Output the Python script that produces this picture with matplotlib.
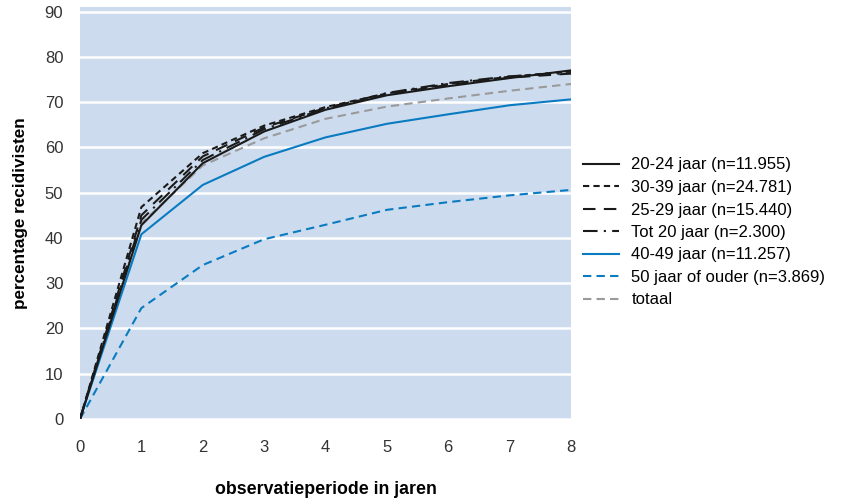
import numpy as np
import matplotlib
matplotlib.use("Agg")
import matplotlib.pyplot as plt

plt.rcParams['font.family'] = ['Liberation Sans', 'DejaVu Sans']

# observation period in years
jaren = [0, 1, 2, 3, 4, 5, 6, 7, 8]

# percentage recidivists per age group
leeftijd_20_24 = [0, 42.8, 56.5, 63.5, 68.3, 71.5, 73.5, 75.3, 77.0]
leeftijd_30_39 = [0, 46.8, 58.7, 64.8, 68.9, 71.9, 74.0, 75.6, 76.8]
leeftijd_25_29 = [0, 45.0, 58.0, 64.4, 68.7, 71.7, 73.8, 75.4, 76.3]
tot_20 = [0, 44.0, 57.2, 64.0, 68.6, 72.0, 74.2, 75.7, 76.4]
leeftijd_40_49 = [0, 40.8, 51.7, 57.9, 62.2, 65.2, 67.3, 69.3, 70.6]
vijftig_plus = [0, 24.5, 34.0, 39.7, 42.9, 46.2, 47.9, 49.4, 50.6]
totaal = [0, 43.2, 56.0, 62.0, 66.3, 69.0, 70.8, 72.5, 74.0]

labels = ['20-24 jaar (n=11.955)', '30-39 jaar (n=24.781)', '25-29 jaar (n=15.440)',
          'Tot 20 jaar (n=2.300)', '40-49 jaar (n=11.257)', '50 jaar of ouder (n=3.869)',
          'totaal']

zwart = '#1a1a1a'
blauw = '#0a7bc1'
grijs = '#9a9a9a'

fig = plt.figure(figsize=(8.48, 5.0), dpi=100)
ax = fig.add_axes([80 / 848, 81 / 500, 491 / 848, 412 / 500])
ax.set_facecolor('#ccdcee')

lw = 1.5
ax.plot(jaren, totaal, color=grijs, lw=lw, dashes=(4, 2.5), label=labels[6], zorder=2)
ax.plot(jaren, vijftig_plus, color=blauw, lw=lw, dashes=(4, 2.5), label=labels[5], zorder=2)
ax.plot(jaren, leeftijd_40_49, color=blauw, lw=lw, label=labels[4], zorder=2)
ax.plot(jaren, tot_20, color=zwart, lw=lw, dashes=(7, 3, 1, 3), label=labels[3], zorder=3)
ax.plot(jaren, leeftijd_25_29, color=zwart, lw=lw, dashes=(6, 4), label=labels[2], zorder=3)
ax.plot(jaren, leeftijd_30_39, color=zwart, lw=lw, dashes=(3, 2), label=labels[1], zorder=3)
ax.plot(jaren, leeftijd_20_24, color=zwart, lw=lw, label=labels[0], zorder=3)

ax.set_xlim(0, 8)
ax.set_ylim(0, 91)
ax.set_xticks(range(0, 9))
ax.set_yticks(range(0, 91, 10))
ax.yaxis.grid(True, color='white', lw=1.8)
ax.set_axisbelow(True)
for s in ax.spines.values():
    s.set_visible(False)
ax.tick_params(axis='x', length=0, pad=15, labelsize=12, labelcolor='#333333')
ax.tick_params(axis='y', length=0, pad=12, labelsize=12, labelcolor='#333333')

ax.set_xlabel('observatieperiode in jaren', fontsize=12.8, fontweight='bold', labelpad=19)
ax.set_ylabel('percentage recidivisten', fontsize=12.3, fontweight='bold', labelpad=12)

handles, labs = ax.get_legend_handles_labels()
order = [labs.index(l) for l in labels]
fig.legend([handles[i] for i in order], [labs[i] for i in order],
           loc='center left', bbox_to_anchor=(583 / 848, 0.535), frameon=False,
           fontsize=12, handlelength=2.15, handletextpad=0.75, labelspacing=0.45,
           borderpad=0, borderaxespad=0)

fig.savefig('out.png', dpi=100)
